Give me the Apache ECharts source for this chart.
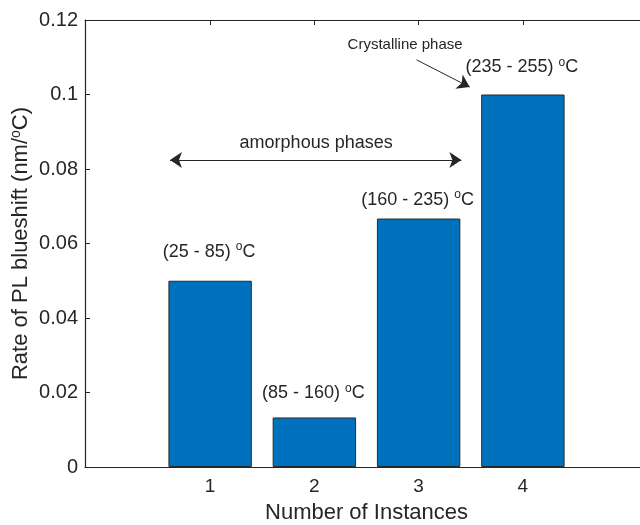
<!DOCTYPE html>
<html>
<head>
<meta charset="utf-8">
<script src="https://cdn.jsdelivr.net/npm/echarts@6/dist/echarts.min.js"></script>
<style>
  html, body { margin: 0; padding: 0; background: #fff; }
  #chart { width: 640px; height: 525px; }
</style>
</head>
<body>
<div id="chart"></div>
<script>
// bar data
var instances = [1, 2, 3, 4];
var blueshiftRate = [0.05, 0.0133, 0.0667, 0.1];
var tempRanges = ['(25 - 85)', '(85 - 160)', '(160 - 235)', '(235 - 255)'];
var yTicks = [0, 0.02, 0.04, 0.06, 0.08, 0.1, 0.12];

var xMin = -0.2, xMax = 5.2;
var gridLeft = 85, gridRight = -8, gridTop = 20, gridBottom = 58;
// gap between bar top and its temperature label (px)
var labelGaps = [18, 13, 8, 16];

function draw_chart() {
  var dom = document.getElementById('chart');
  var myChart = echarts.init(dom, null, { renderer: 'canvas' });
  var font = 'Liberation Sans';
  var ink = '#262626';

  // bar width = 0.8 x-units, in pixels
  var plotW = 640 - gridLeft - gridRight;
  var barPx = 0.8 * plotW / (xMax - xMin);

  var sup = { fontSize: 12, fontFamily: font, color: ink, verticalAlign: 'top', lineHeight: 12 };

  var option = {
    animation: false,
    grid: {
      left: gridLeft, right: gridRight, top: gridTop, bottom: gridBottom,
      containLabel: false, outerBoundsMode: 'none'
    },
    xAxis: [
      {
        type: 'value', min: xMin, max: xMax, position: 'bottom',
        name: 'Number of Instances', nameLocation: 'middle', nameGap: 35,
        nameTextStyle: { fontSize: 22, fontFamily: font, color: ink },
        axisLine: { show: true, onZero: false, lineStyle: { color: ink, width: 1.2 } },
        axisTick: { show: true, inside: true, length: 5, customValues: instances, lineStyle: { color: ink } },
        axisLabel: { customValues: instances, fontSize: 19, fontFamily: font, color: ink, margin: 10 },
        splitLine: { show: false }
      },
      {
        type: 'value', min: xMin, max: xMax, position: 'top',
        axisLine: { show: true, onZero: false, lineStyle: { color: ink, width: 1.2 } },
        axisTick: { show: true, inside: true, length: 5, customValues: instances, lineStyle: { color: ink } },
        axisLabel: { show: false },
        splitLine: { show: false }
      }
    ],
    yAxis: [
      {
        type: 'value', min: 0, max: 0.12, interval: 0.02,
        name: 'Rate of PL blueshift (nm/{s|o}C)', nameLocation: 'middle',
        nameGap: 52, nameMoveOverlap: false,
        nameTextStyle: {
          fontSize: 22, fontFamily: font, color: ink, lineHeight: 24,
          rich: { s: { fontSize: 14, fontFamily: font, color: ink, verticalAlign: 'top', lineHeight: 13 } }
        },
        axisLine: { show: true, onZero: false, lineStyle: { color: ink, width: 1.2 } },
        axisTick: { show: true, inside: true, length: 5, lineStyle: { color: ink } },
        axisLabel: { fontSize: 20, fontFamily: font, color: ink, margin: 7 },
        splitLine: { show: false }
      }
    ],
    series: [
      {
        type: 'bar',
        barWidth: barPx,
        data: instances.map(function (x, i) {
          return { value: [x, blueshiftRate[i]], label: { distance: labelGaps[i] } };
        }),
        itemStyle: { color: '#0072BD', borderColor: '#2b2b2b', borderWidth: 1 },
        label: {
          show: true, position: 'top', offset: [-1, 0],
          formatter: function (p) { return tempRanges[p.dataIndex] + ' {s|o}C'; },
          fontSize: 18, fontFamily: font, color: ink, lineHeight: 22,
          rich: { s: sup }
        },
        markLine: {
          silent: true,
          symbolSize: [12, 12],
          label: { show: false },
          lineStyle: { color: ink, width: 1, type: 'solid' },
          data: [
            [
              { coord: [0.615, 0.0824], symbol: 'arrow' },
              { coord: [3.41, 0.0824], symbol: 'arrow' }
            ],
            [
              { coord: [2.98, 0.1093], symbol: 'none' },
              { coord: [3.49, 0.1020], symbol: 'arrow' }
            ]
          ]
        },
        markPoint: {
          silent: true,
          symbol: 'circle', symbolSize: 0,
          data: [
            {
              coord: [2.017, 0.0870],
              label: { show: true, formatter: 'amorphous phases', fontSize: 18, fontFamily: font, color: ink }
            },
            {
              coord: [2.87, 0.1133],
              label: { show: true, formatter: 'Crystalline phase', fontSize: 15, fontFamily: font, color: ink }
            }
          ]
        }
      }
    ]
  };
  myChart.setOption(option);
}
draw_chart();
</script>
</body>
</html>
